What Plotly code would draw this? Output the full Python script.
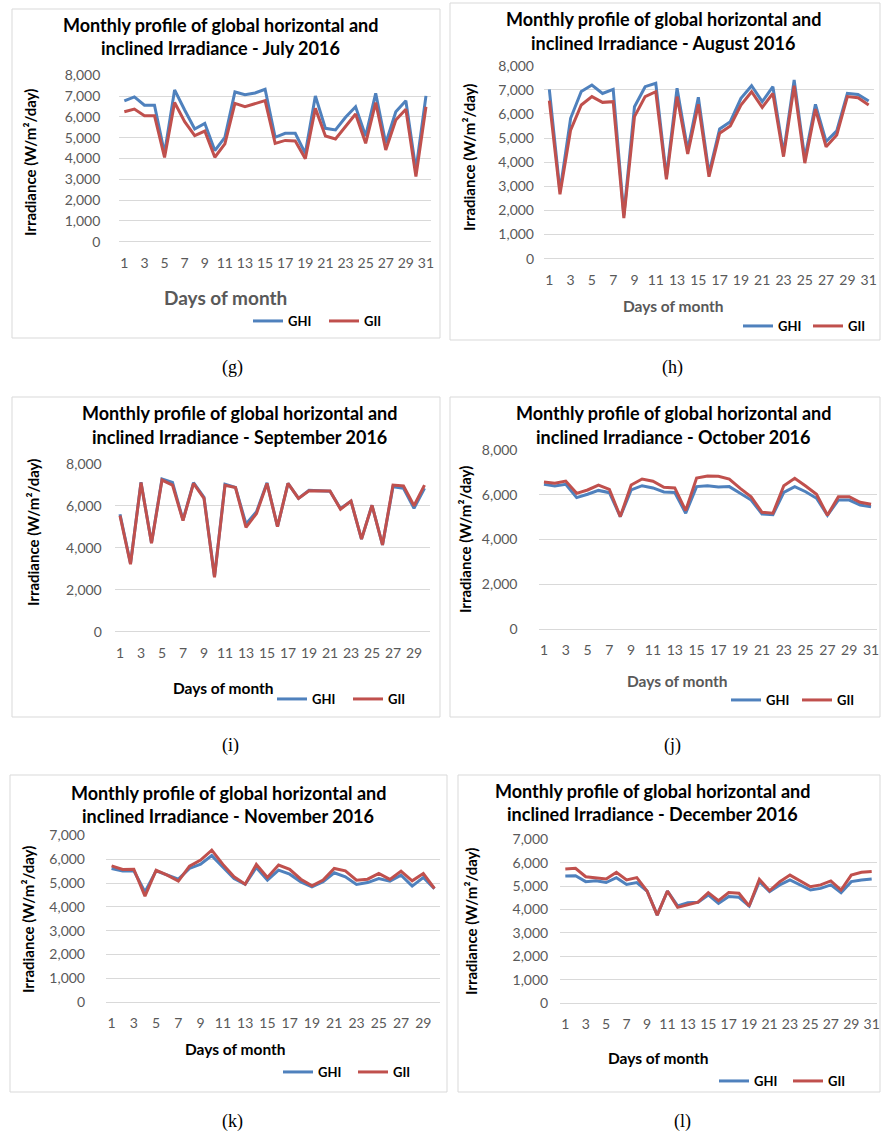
import plotly.graph_objects as go

# ---------------- data ----------------
days_31 = list(range(1, 32))
days_30 = list(range(1, 31))
tick_days_31 = [1, 3, 5, 7, 9, 11, 13, 15, 17, 19, 21, 23, 25, 27, 29, 31]
tick_days_30 = [1, 3, 5, 7, 9, 11, 13, 15, 17, 19, 21, 23, 25, 27, 29]

ghi_jul = [6770, 6960, 6560, 6560, 4250, 7300, 6330, 5420, 5690, 4380, 5020, 7200, 7070, 7150, 7330, 5020,
           5210, 5210, 4250, 7010, 5450, 5370, 5980, 6490, 5080, 7130, 4730, 6250, 6780, 3450, 7010]
gii_jul = [6250, 6380, 6060, 6060, 4050, 6690, 5770, 5100, 5320, 4060, 4700, 6650, 6490, 6640, 6780, 4730,
           4870, 4840, 3990, 6410, 5080, 4940, 5530, 6140, 4730, 6690, 4410, 5850, 6370, 3130, 6490]

ghi_aug = [7020, 2800, 5820, 6930, 7200, 6850, 7020, 1800, 6300, 7130, 7270, 3400, 7070, 4510, 6690, 3540,
           5380, 5680, 6650, 7170, 6510, 7130, 4370, 7410, 4160, 6400, 4860, 5300, 6850, 6810, 6540]
gii_aug = [6550, 2670, 5330, 6370, 6720, 6480, 6510, 1680, 5890, 6720, 6920, 3290, 6720, 4340, 6400, 3400,
           5200, 5500, 6370, 6920, 6270, 6850, 4230, 7170, 3960, 6200, 4640, 5130, 6720, 6670, 6370]

ghi_sep = [5590, 3250, 7120, 4230, 7270, 7110, 5320, 7100, 6400, 2620, 7020, 6870, 5130, 5710, 7090, 5000,
           7060, 6350, 6730, 6710, 6690, 5870, 6220, 4410, 6020, 4130, 6900, 6830, 5870, 6830]
gii_sep = [5530, 3210, 7100, 4210, 7220, 6980, 5290, 7060, 6350, 2590, 6970, 6860, 4970, 5630, 7060, 5000,
           7060, 6350, 6710, 6710, 6700, 5830, 6220, 4410, 6020, 4130, 6980, 6940, 6000, 6980]

ghi_oct = [6460, 6390, 6460, 5870, 6020, 6190, 6090, 5020, 6210, 6400, 6300, 6120, 6100, 5170, 6360, 6400,
           6340, 6360, 6060, 5760, 5140, 5110, 6100, 6360, 6130, 5840, 5080, 5760, 5760, 5540, 5460]
gii_oct = [6570, 6510, 6610, 6060, 6210, 6430, 6240, 5020, 6430, 6700, 6600, 6330, 6300, 5290, 6740, 6830,
           6820, 6700, 6280, 5910, 5210, 5170, 6400, 6730, 6390, 6020, 5080, 5910, 5910, 5660, 5570]

ghi_nov = [5610, 5500, 5510, 4630, 5510, 5330, 5160, 5610, 5790, 6150, 5650, 5190, 4950, 5650, 5120, 5540,
           5370, 5050, 4840, 5050, 5430, 5260, 4940, 5020, 5190, 5080, 5330, 4870, 5230, 4760]
gii_nov = [5720, 5570, 5580, 4450, 5540, 5330, 5080, 5710, 5960, 6380, 5780, 5260, 4950, 5780, 5230, 5750,
           5570, 5160, 4880, 5120, 5610, 5510, 5120, 5160, 5400, 5150, 5500, 5090, 5400, 4770]

ghi_dec = [5430, 5440, 5190, 5230, 5150, 5360, 5070, 5150, 4790, 3760, 4790, 4150, 4290, 4310, 4620, 4260,
           4550, 4520, 4150, 5190, 4760, 5050, 5260, 5050, 4830, 4900, 5050, 4720, 5190, 5260, 5300]
gii_dec = [5730, 5760, 5400, 5360, 5300, 5590, 5260, 5360, 4790, 3760, 4790, 4090, 4190, 4310, 4720, 4380,
           4720, 4690, 4150, 5290, 4800, 5190, 5470, 5230, 4970, 5050, 5220, 4830, 5470, 5590, 5620]

months = ["July", "August", "September", "October", "November", "December"]
captions = ["(g)", "(h)", "(i)", "(j)", "(k)", "(l)"]
yticks_8k_1k = [0, 1000, 2000, 3000, 4000, 5000, 6000, 7000, 8000]
yticks_8k_2k = [0, 2000, 4000, 6000, 8000]
yticks_7k_1k = [0, 1000, 2000, 3000, 4000, 5000, 6000, 7000]

# ---------------- layout helpers ----------------
W, H = 884, 1133
def px(x):
    return x / W
def py(y):
    return 1 - y / H

BLUE = "#4F81BD"
RED = "#C0504D"
GRID = "#D9D9D9"
GRAY = "#595959"
FONT = "Lato"

# geometry per panel (pixels)
panels = [
    dict(days=days_31, ticks=tick_days_31, ghi=ghi_jul, gii=gii_jul, ymax=8000, yt=yticks_8k_1k,
         box=(12, 9, 440, 338), plot=(119.3, 75.3, 431, 241.7), ysoff=18,
         t1=(220, 25), t2=(220, 48), ytit=(30, 163), xt=(225, 297, GRAY, 19), leg=(252, 321, 76),
         cap=(232, 367)),
    dict(days=days_31, ticks=tick_days_31, ghi=ghi_aug, gii=gii_aug, ymax=8000, yt=yticks_8k_1k,
         box=(450, 3, 880, 340), plot=(544, 65.7, 874, 258.7), ysoff=9,
         t1=(663, 19), t2=(663, 43), ytit=(469, 158), xt=(673, 306, GRAY, 15.5), leg=(742, 326, 70),
         cap=(672, 367)),
    dict(days=days_30, ticks=tick_days_30, ghi=ghi_sep, gii=gii_sep, ymax=8000, yt=yticks_8k_2k,
         box=(12, 397, 440, 717), plot=(114.75, 463.7, 429.75, 631.7), ysoff=12,
         t1=(240, 413), t2=(240, 437), ytit=(33, 533), xt=(223, 688, "black", 15.5), leg=(276, 699, 76),
         cap=(230, 745)),
    dict(days=days_31, ticks=tick_days_31, ghi=ghi_oct, gii=gii_oct, ymax=8000, yt=yticks_8k_2k,
         box=(450, 397, 880, 717), plot=(538.5, 449.9, 876.5, 629), ysoff=20,
         t1=(673, 413), t2=(673, 437), ytit=(465, 540), xt=(677, 681, GRAY, 15.5), leg=(730, 700, 71),
         cap=(672, 745)),
    dict(days=days_30, ticks=tick_days_30, ghi=ghi_nov, gii=gii_nov, ymax=7000, yt=yticks_7k_1k,
         box=(10, 775, 447, 1092), plot=(106, 835.3, 440, 1002.3), ysoff=20,
         t1=(228, 793), t2=(228, 816), ytit=(28, 920), xt=(235, 1049, "black", 15.5), leg=(282, 1072, 75),
         cap=(232, 1121)),
    dict(days=days_31, ticks=tick_days_31, ghi=ghi_dec, gii=gii_dec, ymax=7000, yt=yticks_7k_1k,
         box=(458, 775, 880, 1092), plot=(560.2, 839.3, 876.8, 1003), ysoff=11,
         t1=(652, 791), t2=(652, 814), ytit=(471, 922), xt=(658, 1058, "black", 15.5), leg=(718, 1081, 74),
         cap=(682, 1121)),
]

fig = go.Figure()
annotations = []
shapes = []
layout_axes = {}

for i, (p, month, cap) in enumerate(zip(panels, months, captions), start=1):
    sfx = "" if i == 1 else str(i)
    legname = "legend" if i == 1 else f"legend{i}"
    fig.add_trace(go.Scatter(x=p["days"], y=p["ghi"], mode="lines", name="GHI",
                             line=dict(color=BLUE, width=3), xaxis="x" + sfx, yaxis="y" + sfx,
                             legend=legname, showlegend=True))
    fig.add_trace(go.Scatter(x=p["days"], y=p["gii"], mode="lines", name="GII",
                             line=dict(color=RED, width=3), xaxis="x" + sfx, yaxis="y" + sfx,
                             legend=legname, showlegend=True))
    x0, y0, x1, y1 = p["plot"]
    n = len(p["days"])
    layout_axes["xaxis" + sfx] = dict(
        domain=[px(x0), px(x1)], range=[0.5, n + 0.5], anchor="y" + sfx, automargin=False,
        tickvals=p["ticks"], ticktext=[str(t) for t in p["ticks"]],
        showgrid=False, zeroline=False, showline=False, ticks="",
        tickfont=dict(family=FONT, size=14, color=GRAY), ticklabelstandoff=11, fixedrange=True)
    layout_axes["yaxis" + sfx] = dict(
        domain=[py(y1), py(y0)], range=[0, p["ymax"]], anchor="x" + sfx, automargin=False,
        tickvals=p["yt"], tickformat=",", showgrid=True, gridcolor=GRID, gridwidth=1,
        zeroline=True, zerolinecolor=GRID, zerolinewidth=1, showline=False, ticks="",
        tickfont=dict(family=FONT, size=14, color=GRAY), ticklabelstandoff=p["ysoff"], fixedrange=True)
    lx, ly, lsp = p["leg"]
    layout_axes[legname] = dict(
        orientation="h", x=px(lx - 4), y=py(ly), xanchor="left", yanchor="middle",
        font=dict(family=FONT, size=13, color="black", weight="bold"),
        bgcolor="rgba(0,0,0,0)", borderwidth=0, traceorder="normal",
        entrywidth=lsp - 45, entrywidthmode="pixels", itemwidth=30)

    bx0, by0, bx1, by1 = p["box"]
    shapes.append(dict(type="rect", xref="paper", yref="paper", x0=px(bx0), x1=px(bx1),
                       y0=py(by1), y1=py(by0), line=dict(color=GRID, width=1),
                       fillcolor="rgba(0,0,0,0)", layer="below"))
    annotations.append(dict(text="Monthly profile of global horizontal and", x=px(p["t1"][0]),
                            y=py(p["t1"][1]), xref="paper", yref="paper", showarrow=False,
                            xanchor="center", yanchor="middle",
                            font=dict(family=FONT, size=18, color="black", weight="bold")))
    annotations.append(dict(text=f"inclined Irradiance - {month} 2016", x=px(p["t2"][0]),
                            y=py(p["t2"][1]), xref="paper", yref="paper", showarrow=False,
                            xanchor="center", yanchor="middle",
                            font=dict(family=FONT, size=18, color="black", weight="bold")))
    annotations.append(dict(text="Irradiance (W/m²/day)", x=px(p["ytit"][0]), y=py(p["ytit"][1]),
                            xref="paper", yref="paper", showarrow=False, textangle=-90,
                            xanchor="center", yanchor="middle",
                            font=dict(family=FONT, size=15, color="black", weight="bold")))
    xtx, xty, xtc, xts = p["xt"]
    annotations.append(dict(text="Days of month", x=px(xtx), y=py(xty), xref="paper", yref="paper",
                            showarrow=False, xanchor="center", yanchor="middle",
                            font=dict(family=FONT, size=xts, color=xtc, weight="bold")))
    annotations.append(dict(text=cap, x=px(p["cap"][0]), y=py(p["cap"][1]), xref="paper",
                            yref="paper", showarrow=False, xanchor="center", yanchor="middle",
                            font=dict(family="Liberation Serif", size=18, color="black")))

fig.update_layout(
    width=W, height=H, autosize=False,
    margin=dict(l=0, r=0, t=0, b=0, pad=0, autoexpand=False),
    paper_bgcolor="white", plot_bgcolor="white",
    annotations=annotations, shapes=shapes, **layout_axes)

fig.write_html(
    "out.html",
    config={"displayModeBar": False, "responsive": False},
    post_script="document.body.style.margin='0px';document.body.style.padding='0px';"
                "document.documentElement.style.overflow='hidden';")
